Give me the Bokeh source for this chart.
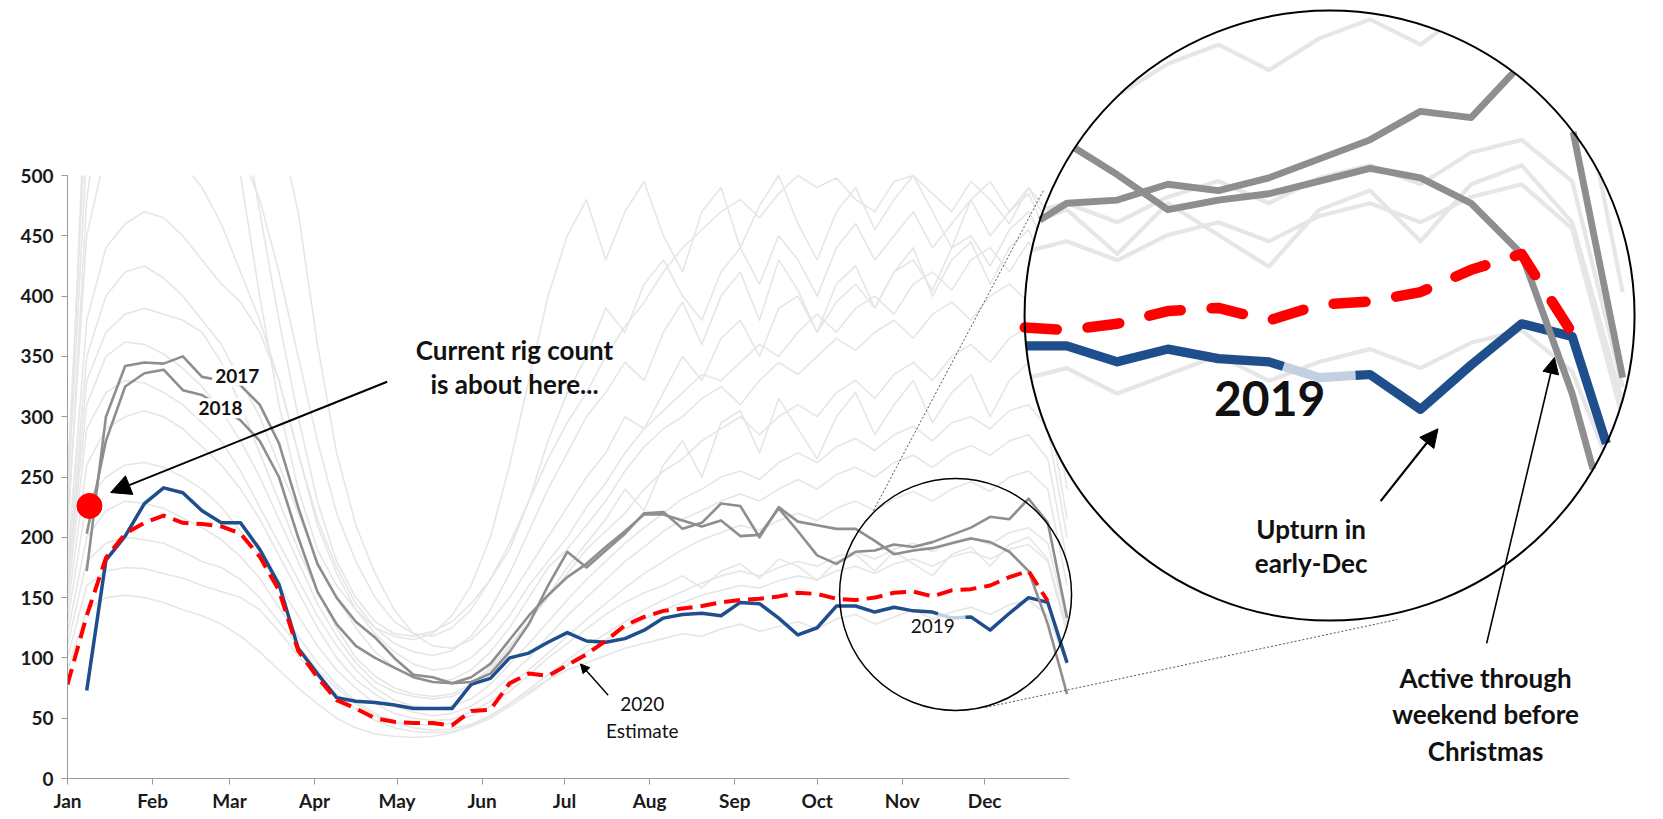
import math

from bokeh.plotting import figure
from bokeh.models import Range1d, FixedTicker, Label, Arrow, NormalHead
from bokeh.embed import file_html
from bokeh.resources import INLINE

nan = float("nan")

# ---------------------------------------------------------------- data
# weekly observations, x = day of year
WEEK_DAY = list(range(0, 365, 7))

MONTHS = ["Jan", "Feb", "Mar", "Apr", "May", "Jun",
          "Jul", "Aug", "Sep", "Oct", "Nov", "Dec"]
MONTH_START = [0, 31, 59, 90, 120, 151, 181, 212, 243, 273, 304, 334]
Y_TICKS = list(range(0, 501, 50))
Y_MAX = 500

RIGS_2019 = [nan, 73, 181, 201, 228, 241, 237, 222, 212, 212, 190, 161, 108,
             87, 67, 64, 63, 61, 58, 58, 58, 78, 83, 100, 104, 113,
             121, 114, 113, 116, 123, 133, 136, 137, 135, 146, 145, 133, 119,
             125, 143, 143, 138, 142, 139, 138, 133, 134, 123, 137, 150, 146, 96]
# stretch of the 2019 line that sits behind its own label (drawn pale)
LABEL_SPAN_2019 = (317, 327)

RIGS_2020_EST = [78, 135, 183, 203, 212, 218, 212, 211, 209, 203, 184, 156, 106,
                 84, 65, 58, 50, 47, 46, 46, 44, 56, 57, 79, 87, 85,
                 94, 103, 114, 127, 134, 139, 141, 143, 146, 148, 149, 151, 154,
                 153, 149, 148, 150, 154, 155, 151, 156, 157, 160, 167, 172, 147, nan]

RIGS_2017 = [nan, 172, 300, 342, 345, 344, 350, 333, 330, 326, 310, 278, 225,
             178, 150, 130, 117, 100, 86, 84, 79, 80, 87, 105, 128, 160,
             188, 175, 189, 203, 220, 221, 207, 212, 228, 226, 200, 225, 213,
             210, 207, 207, 197, 186, 189, 191, 195, 199, 196, 188, 172, 128, 70]

RIGS_2018 = [nan, 203, 280, 325, 336, 339, 322, 318, 308, 297, 280, 250, 200,
             155, 128, 110, 100, 92, 84, 80, 79, 84, 95, 115, 135, 152,
             167, 178, 192, 205, 219, 219, 214, 209, 214, 201, 202, 224, 205,
             185, 178, 188, 189, 194, 192, 196, 202, 208, 217, 215, 232, 212, 133]

# earlier years, drawn as a faint backdrop
HIST_A = [250, 560, 700, 760, 780, 770, 760, 720, 640, 500, 400, 310, 240,
          190, 160, 140, 125, 118, 115, 120, 135, 160, 200, 260, 330, 400,
          450, 480, 430, 470, 495, 450, 420, 470, 490, 440, 475, 500, 460,
          430, 470, 490, 455, 480, 500, 470, 440, 480, 495, 470, 490, 460, 330]
HIST_B = [230, 520, 650, 690, 700, 690, 670, 640, 600, 560, 470, 380, 300,
          230, 180, 150, 130, 120, 118, 122, 130, 145, 165, 190, 230, 280,
          320, 350, 390, 370, 410, 430, 400, 380, 420, 440, 410, 450, 430,
          400, 440, 460, 430, 450, 470, 440, 460, 480, 450, 470, 485, 450, 320]
HIST_C = [200, 480, 600, 680, 700, 710, 700, 690, 670, 640, 600, 540, 470,
          360, 270, 210, 170, 140, 120, 110, 108, 115, 130, 150, 175, 200,
          225, 250, 270, 300, 290, 320, 350, 330, 365, 380, 350, 390, 400,
          370, 395, 410, 390, 420, 430, 405, 440, 450, 425, 455, 470, 440, 320]
HIST_D = [180, 380, 440, 460, 470, 465, 450, 430, 410, 395, 370, 330, 270,
          210, 170, 140, 120, 105, 95, 90, 92, 100, 115, 135, 160, 180,
          200, 225, 245, 270, 290, 305, 320, 335, 330, 345, 360, 350, 370,
          385, 370, 390, 400, 385, 410, 420, 405, 430, 440, 420, 445, 420, 300]
HIST_E = [170, 350, 400, 420, 425, 415, 400, 380, 360, 330, 300, 260, 220,
          180, 150, 125, 105, 92, 85, 80, 82, 90, 105, 125, 150, 175,
          190, 210, 230, 255, 275, 290, 300, 315, 325, 310, 330, 345, 335,
          350, 365, 355, 370, 380, 365, 385, 395, 380, 400, 410, 395, 370, 260]
HIST_F = [160, 330, 370, 385, 390, 385, 380, 370, 345, 310, 270, 230, 190,
          155, 125, 100, 85, 75, 70, 68, 70, 78, 92, 110, 130, 150,
          170, 190, 205, 220, 240, 255, 265, 280, 290, 300, 285, 300, 310,
          300, 320, 330, 315, 335, 345, 330, 350, 360, 345, 365, 375, 350, 240]
HIST_G = [150, 290, 320, 330, 328, 320, 310, 295, 280, 255, 225, 195, 165,
          135, 110, 90, 75, 65, 60, 58, 60, 66, 78, 95, 112, 130,
          148, 165, 180, 195, 208, 220, 232, 240, 250, 255, 248, 262, 270,
          262, 275, 282, 272, 285, 292, 280, 295, 300, 290, 305, 310, 290, 200]
HIST_H = [140, 260, 290, 300, 305, 300, 290, 275, 260, 240, 215, 185, 155,
          125, 100, 82, 70, 60, 55, 52, 54, 60, 70, 85, 100, 118,
          135, 150, 165, 180, 192, 205, 215, 222, 230, 236, 230, 240, 248,
          240, 252, 258, 250, 262, 268, 258, 270, 276, 268, 280, 285, 265, 180]
HIST_I = [130, 230, 250, 260, 262, 258, 250, 240, 225, 205, 185, 160, 135,
          110, 90, 75, 62, 54, 50, 48, 49, 55, 64, 76, 90, 104,
          118, 132, 145, 158, 170, 180, 190, 198, 204, 210, 206, 214, 220,
          214, 224, 230, 222, 232, 238, 230, 240, 246, 238, 250, 255, 240, 160]
HIST_J = [110, 180, 195, 200, 198, 195, 188, 180, 175, 165, 150, 130, 110,
          90, 75, 62, 52, 46, 42, 40, 41, 45, 52, 62, 74, 86,
          98, 110, 120, 130, 140, 148, 155, 162, 168, 172, 168, 175, 180,
          176, 184, 188, 182, 190, 195, 188, 196, 200, 194, 204, 208, 195, 130]
HIST_K = [100, 160, 172, 175, 174, 170, 166, 160, 155, 150, 140, 122, 102,
          84, 70, 58, 48, 42, 39, 38, 39, 43, 50, 60, 70, 82,
          94, 105, 115, 124, 132, 140, 146, 152, 156, 160, 158, 164, 168,
          165, 172, 176, 170, 178, 182, 176, 184, 188, 182, 190, 194, 180, 120]
HIST_L = [220, 600, 720, 740, 720, 690, 650, 600, 560, 520, 480, 420, 350,
          280, 220, 180, 150, 130, 120, 118, 125, 140, 165, 195, 230, 265,
          295, 320, 350, 375, 395, 420, 440, 455, 470, 480, 465, 485, 500,
          490, 498, 480, 470, 495, 500, 485, 470, 495, 480, 460, 490, 470, 350]
HIST_M = [90, 140, 150, 152, 150, 146, 140, 135, 128, 118, 105, 90, 75,
          62, 50, 42, 37, 35, 34, 35, 38, 44, 52, 62, 72, 82,
          90, 96, 102, 108, 112, 116, 120, 118, 124, 128, 122, 126, 130,
          124, 132, 136, 128, 134, 140, 132, 138, 142, 136, 144, 148, 135, 95]
HIST_N = [120, 200, 222, 230, 228, 224, 216, 208, 198, 184, 166, 142, 118,
          96, 78, 64, 54, 47, 45, 44, 46, 52, 60, 72, 86, 100,
          112, 124, 136, 146, 154, 160, 168, 158, 172, 178, 166, 182, 176,
          164, 180, 186, 172, 188, 178, 168, 186, 192, 176, 194, 200, 182, 125]
HIST_O = [160, 310, 350, 362, 360, 352, 340, 325, 305, 280, 250, 215, 180,
          145, 118, 96, 80, 72, 68, 66, 68, 76, 90, 108, 130, 152,
          175, 195, 215, 240, 222, 260, 280, 250, 295, 305, 270, 315, 290,
          265, 300, 320, 285, 310, 330, 295, 320, 335, 300, 330, 345, 310, 215]
HIST_P = [210, 450, 520, 540, 545, 530, 510, 490, 460, 420, 380, 330, 270,
          215, 175, 145, 125, 112, 105, 102, 106, 118, 140, 170, 205, 240,
          270, 300, 320, 345, 330, 370, 395, 360, 400, 420, 380, 430, 405,
          370, 410, 425, 390, 420, 440, 400, 430, 445, 410, 440, 455, 420, 300]
HISTORY = [HIST_A, HIST_B, HIST_C, HIST_D, HIST_E, HIST_F, HIST_G, HIST_H,
           HIST_I, HIST_J, HIST_K, HIST_L, HIST_M, HIST_N, HIST_O, HIST_P]

CURRENT_DAY = 8
CURRENT_RIGS = 226

# ---------------------------------------------------------------- geometry
FIG_W, FIG_H = 1663, 819
BORDER_LEFT, BORDER_BOTTOM = 67, 41
PX_PER_DAY = 2.746
PX_PER_RIG = 1.206
X_END = (FIG_W - BORDER_LEFT) / PX_PER_DAY
Y_END = (FIG_H - BORDER_BOTTOM) / PX_PER_RIG

# magnifier: small lens over late-year data, enlarged copy at upper right
LENS_DAY, LENS_RIGS, LENS_R = 323.4, 152.6, 116
BIG_DAY, BIG_RIGS, BIG_R = 459.6, 383.9, 305
MAG = BIG_R / LENS_R

LIGHT = "#e6e6e6"
GREY = "#8e8e8e"
BLUE = "#1f4e8c"
PALE_BLUE = "#c3d0e2"
RED = "#ff0000"
FONT = "Lato"


def split_valid(xs, ys):
    pieces, cx, cy = [], [], []
    for x, y in zip(xs, ys):
        if y is None or (isinstance(y, float) and math.isnan(y)):
            if cx:
                pieces.append((cx, cy))
            cx, cy = [], []
        else:
            cx.append(x)
            cy.append(y)
    if cx:
        pieces.append((cx, cy))
    return pieces


def window(xs, ys, lo, hi):
    """Portion of a polyline with lo <= x <= hi (end points interpolated)."""
    def at(x):
        for i in range(len(xs) - 1):
            if xs[i] <= x <= xs[i + 1]:
                t = (x - xs[i]) / (xs[i + 1] - xs[i])
                return ys[i] + t * (ys[i + 1] - ys[i])
        return nan
    wx = [lo] + [x for x in xs if lo < x < hi] + [hi]
    wy = [at(lo)] + [y for x, y in zip(xs, ys) if lo < x < hi] + [at(hi)]
    return wx, wy


def clip_top(xs, ys, ymax):
    """Cut polylines at the top of the value axis."""
    out = []
    for px, py in split_valid(xs, ys):
        cx, cy = [], []
        for i in range(len(px) - 1):
            x0, y0, x1, y1 = px[i], py[i], px[i + 1], py[i + 1]
            if y0 <= ymax and y1 <= ymax:
                if not cx:
                    cx, cy = [x0], [y0]
                cx.append(x1)
                cy.append(y1)
            elif y0 <= ymax < y1:
                xm = x0 + (ymax - y0) / (y1 - y0) * (x1 - x0)
                if not cx:
                    cx, cy = [x0], [y0]
                cx.append(xm)
                cy.append(ymax)
                out.append((cx, cy))
                cx, cy = [], []
            elif y1 <= ymax < y0:
                xm = x0 + (ymax - y0) / (y1 - y0) * (x1 - x0)
                cx, cy = [xm, x1], [ymax, y1]
        if len(cx) > 1:
            out.append((cx, cy))
    return out


def clip_lens(xs, ys):
    """Keep the parts of a polyline inside the round lens, enlarged."""
    out = []
    for px, py in split_valid(xs, ys):
        cur = []
        for i in range(len(px) - 1):
            ax = (px[i] - LENS_DAY) * PX_PER_DAY
            ay = (py[i] - LENS_RIGS) * PX_PER_RIG
            bx = (px[i + 1] - LENS_DAY) * PX_PER_DAY
            by = (py[i + 1] - LENS_RIGS) * PX_PER_RIG
            dx, dy = bx - ax, by - ay
            a = dx * dx + dy * dy
            b = 2 * (ax * dx + ay * dy)
            c = ax * ax + ay * ay - LENS_R ** 2
            disc = b * b - 4 * a * c
            if a == 0 or disc <= 0:
                if len(cur) > 1:
                    out.append(cur)
                cur = []
                continue
            sq = math.sqrt(disc)
            lo = max(0.0, (-b - sq) / (2 * a))
            hi = min(1.0, (-b + sq) / (2 * a))
            if lo >= hi:
                if len(cur) > 1:
                    out.append(cur)
                cur = []
                continue
            p_lo = (px[i] + lo * (px[i + 1] - px[i]), py[i] + lo * (py[i + 1] - py[i]))
            p_hi = (px[i] + hi * (px[i + 1] - px[i]), py[i] + hi * (py[i + 1] - py[i]))
            if lo > 0 or not cur:
                if len(cur) > 1:
                    out.append(cur)
                cur = [p_lo]
            cur.append(p_hi)
            if hi < 1:
                out.append(cur)
                cur = []
        if len(cur) > 1:
            out.append(cur)
    return [([BIG_DAY + MAG * (x - LENS_DAY) for x, _ in seg],
             [BIG_RIGS + MAG * (y - LENS_RIGS) for _, y in seg]) for seg in out]


def draw(p, pieces, **kw):
    if pieces:
        p.multi_line([a for a, _ in pieces], [b for _, b in pieces], **kw)


p = figure(width=FIG_W, height=FIG_H, output_backend="svg", toolbar_location=None,
           x_range=Range1d(0, X_END), y_range=Range1d(0, Y_END),
           min_border_left=BORDER_LEFT, min_border_bottom=BORDER_BOTTOM,
           min_border_top=0, min_border_right=0)
p.outline_line_color = None
p.xgrid.visible = False
p.ygrid.visible = False
p.background_fill_color = "white"

for ax in (p.xaxis[0], p.yaxis[0]):
    ax.axis_line_color = "#9a9a9a"
    ax.major_tick_line_color = "#9a9a9a"
    ax.minor_tick_line_color = None
    ax.major_tick_in = 0
    ax.major_tick_out = 6
    ax.major_label_text_font = FONT
    ax.major_label_text_font_style = "bold"
    ax.major_label_text_font_size = "19px"
    ax.major_label_text_color = "#1a1a1a"
p.xaxis.ticker = FixedTicker(ticks=MONTH_START)
p.xaxis.major_label_overrides = {d: m for d, m in zip(MONTH_START, MONTHS)}
p.xaxis.bounds = (0, 365)
p.xaxis.major_label_standoff = 4
p.yaxis.ticker = FixedTicker(ticks=Y_TICKS)
p.yaxis.bounds = (0, Y_MAX)
p.yaxis.major_label_standoff = 8

# 2019 split into the dark line and the pale stretch behind its label
pale_x, pale_y = window(WEEK_DAY, RIGS_2019, *LABEL_SPAN_2019)
left_x, left_y = window(WEEK_DAY[1:], RIGS_2019[1:], WEEK_DAY[1], LABEL_SPAN_2019[0])
right_x, right_y = window(WEEK_DAY[1:], RIGS_2019[1:], LABEL_SPAN_2019[1], WEEK_DAY[-1])

# ---------------------------------------------------------------- main chart
for series in HISTORY:
    draw(p, clip_top(WEEK_DAY, series, Y_MAX), line_color=LIGHT, line_width=1.6,
         line_join="round")
draw(p, clip_top(pale_x, pale_y, Y_MAX), line_color=PALE_BLUE, line_width=3.5,
     line_join="round")
for xs, ys in ((left_x, left_y), (right_x, right_y)):
    draw(p, clip_top(xs, ys, Y_MAX), line_color=BLUE, line_width=3.5, line_join="round")
for series in (RIGS_2017, RIGS_2018):
    draw(p, clip_top(WEEK_DAY, series, Y_MAX), line_color=GREY, line_width=2.6,
         line_join="round")
draw(p, clip_top(WEEK_DAY, RIGS_2020_EST, Y_MAX), line_color=RED, line_width=4,
     line_dash="16 8", line_join="round")
p.scatter([CURRENT_DAY], [CURRENT_RIGS], size=25, color=RED)

# lens outline and connectors
p.scatter([LENS_DAY], [LENS_RIGS], size=2 * LENS_R, fill_color=None,
          line_color="black", line_width=1.5)
p.segment(x0=[293.5, 334.3], y0=[222.2, 58.9], x1=[355.4, 484.3], y1=[487.6, 131.8],
          line_color="#555555", line_width=1, line_dash="2 2")

# ---------------------------------------------------------------- magnified view
p.scatter([BIG_DAY], [BIG_RIGS], size=2 * BIG_R, fill_color="white", line_color=None)
for series in HISTORY:
    draw(p, clip_lens(WEEK_DAY, series), line_color=LIGHT, line_width=1.6 * MAG,
         line_join="round")
draw(p, clip_lens(pale_x, pale_y), line_color=PALE_BLUE, line_width=3.5 * MAG,
     line_join="round")
for xs, ys in ((left_x, left_y), (right_x, right_y)):
    draw(p, clip_lens(xs, ys), line_color=BLUE, line_width=3.5 * MAG, line_join="round")
for series in (RIGS_2017, RIGS_2018):
    draw(p, clip_lens(WEEK_DAY, series), line_color=GREY, line_width=2.6 * MAG,
         line_join="round")
draw(p, clip_lens(WEEK_DAY, RIGS_2020_EST), line_color=RED, line_width=4 * MAG,
     line_dash="32 31", line_cap="round", line_join="round")
p.scatter([BIG_DAY], [BIG_RIGS], size=2 * BIG_R, fill_color=None,
          line_color="black", line_width=2)


# ---------------------------------------------------------------- annotations
def label(x, y, text, size, bold=True, bg=None, pad=0):
    kw = {}
    if bg is not None:
        kw = dict(background_fill_color=bg, background_fill_alpha=1.0, padding=pad)
    p.add_layout(Label(x=x, y=y, text=text, text_align="center",
                       text_baseline="alphabetic", text_font=FONT,
                       text_font_size=f"{size}px",
                       text_font_style="bold" if bold else "normal",
                       text_color="#111111", **kw))


label(61.8, 334.0, "2017", 19, bg="white", pad=3)
label(55.7, 307.0, "2018", 19, bg="white", pad=3)
label(315.1, 126.5, "2019", 19, bold=False)
label(209.3, 61.4, "2020", 19, bold=False)
label(209.3, 39.8, "Estimate", 19, bold=False)
label(162.8, 355.0, "Current rig count", 26)
label(162.8, 327.5, "is about here...", 26)

label(BIG_DAY + MAG * (315.1 - LENS_DAY), BIG_RIGS + MAG * (126.5 - LENS_RIGS),
      "2019", 48)
label(452.9, 206.5, "Upturn in", 26)
label(452.9, 178.3, "early-Dec", 26)
label(516.4, 83.4, "Active through", 26)
label(516.4, 53.1, "weekend before", 26)
label(516.4, 22.7, "Christmas", 26)


def arrow(x0, y0, x1, y1, width, head):
    p.add_layout(Arrow(x_start=x0, y_start=y0, x_end=x1, y_end=y1,
                       line_color="black", line_width=width,
                       end=NormalHead(size=head, fill_color="black", line_color="black")))


arrow(116.4, 329.0, 15.7, 237.1, 2, 20)
arrow(196.9, 69.0, 186.8, 95.0, 1.4, 9)
arrow(478.2, 230.0, 499.1, 290.0, 2.2, 18)
arrow(516.8, 112.0, 541.5, 349.1, 1.6, 16)

open("out.html", "w").write(file_html(p, INLINE))
